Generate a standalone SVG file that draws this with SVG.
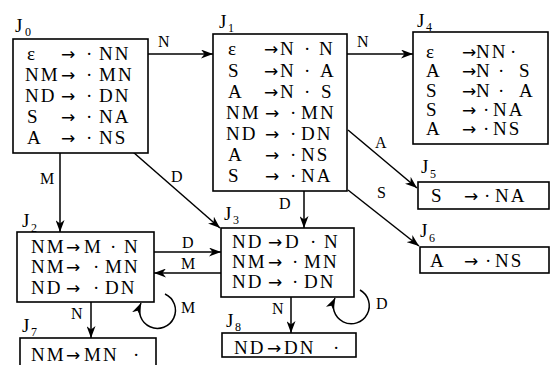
<svg xmlns="http://www.w3.org/2000/svg" width="550" height="365" viewBox="0 0 550 365">
<style>
.bx{fill:#fff;stroke:#000;stroke-width:1.6}
.t{font-family:"Liberation Serif","DejaVu Serif",serif;font-size:19px;fill:#000;letter-spacing:2px}
.ar{font-family:"DejaVu Sans",sans-serif;font-size:17px;letter-spacing:0}
.jl{font-family:"Liberation Serif","DejaVu Serif",serif;font-size:19px;fill:#000}
.sub{font-size:12px}
.lb{font-family:"Liberation Serif","DejaVu Serif",serif;font-size:16px;fill:#000}
.ln{fill:none;stroke:#000;stroke-width:1.5;marker-end:url(#ah)}
</style>
<defs>
<marker id="ah" markerUnits="userSpaceOnUse" markerWidth="13" markerHeight="9" refX="12" refY="4.5" orient="auto">
<path d="M0,0 L12,4.5 L0,9 L3.5,4.5 Z" fill="#000"/>
</marker>
</defs>
<rect width="550" height="365" fill="#fff"/>

<g id="connectors">
<line class="ln" x1="148" y1="54" x2="213" y2="54"/>
<text class="lb" x="158" y="47">N</text>
<line class="ln" x1="347" y1="54" x2="413" y2="54"/>
<text class="lb" x="357" y="47">N</text>
<line class="ln" x1="348" y1="130" x2="417" y2="188"/>
<text class="lb" x="375" y="148">A</text>
<line class="ln" x1="348" y1="190" x2="419" y2="246"/>
<text class="lb" x="377" y="198">S</text>
<line class="ln" x1="304" y1="191" x2="304" y2="228"/>
<text class="lb" x="279" y="209">D</text>
<line class="ln" x1="60" y1="153" x2="60" y2="232"/>
<text class="lb" x="40" y="184">M</text>
<line class="ln" x1="133" y1="152" x2="220" y2="228"/>
<text class="lb" x="171" y="182">D</text>
<line class="ln" x1="154" y1="252" x2="221" y2="252"/>
<text class="lb" x="182" y="248">D</text>
<line class="ln" x1="221" y1="273" x2="154" y2="273"/>
<text class="lb" x="181" y="269">M</text>
<path class="ln" d="M165 294 A18 18 0 1 1 141 303"/>
<text class="lb" x="181" y="313">M</text>
<path class="ln" d="M360 290 A18 18 0 1 1 335 298"/>
<text class="lb" x="376" y="309">D</text>
<line class="ln" x1="91" y1="302" x2="91" y2="338"/>
<text class="lb" x="71" y="319">N</text>
<line class="ln" x1="291" y1="297" x2="291" y2="333"/>
<text class="lb" x="272" y="314">N</text>
</g>

<g id="J0">
<rect class="bx" x="13" y="39" width="135" height="114"/>
<text class="jl" x="15" y="32">J<tspan class="sub" x="25" y="36">0</tspan></text>
<text class="t" y="60"><tspan x="27">ε</tspan><tspan class="ar" x="61">→</tspan><tspan x="86">·</tspan><tspan x="99">NN</tspan></text>
<text class="t" y="81"><tspan x="25">NM</tspan><tspan class="ar" x="61">→</tspan><tspan x="86">·</tspan><tspan x="99">MN</tspan></text>
<text class="t" y="102"><tspan x="25">ND</tspan><tspan class="ar" x="61">→</tspan><tspan x="86">·</tspan><tspan x="99">DN</tspan></text>
<text class="t" y="123"><tspan x="27">S</tspan><tspan class="ar" x="61">→</tspan><tspan x="86">·</tspan><tspan x="99">NA</tspan></text>
<text class="t" y="144"><tspan x="27">A</tspan><tspan class="ar" x="61">→</tspan><tspan x="86">·</tspan><tspan x="99">NS</tspan></text>
</g>

<g id="J1">
<rect class="bx" x="213" y="34" width="134" height="157"/>
<text class="jl" x="219" y="28">J<tspan class="sub" x="228" y="32">1</tspan></text>
<text class="t" y="55"><tspan x="228">ε</tspan><tspan class="ar" x="264">→</tspan><tspan x="280">N</tspan><tspan x="304">·</tspan><tspan x="319">N</tspan></text>
<text class="t" y="77"><tspan x="228">S</tspan><tspan class="ar" x="264">→</tspan><tspan x="280">N</tspan><tspan x="304">·</tspan><tspan x="320">A</tspan></text>
<text class="t" y="98"><tspan x="228">A</tspan><tspan class="ar" x="264">→</tspan><tspan x="280">N</tspan><tspan x="304">·</tspan><tspan x="321">S</tspan></text>
<text class="t" y="119"><tspan x="226">NM</tspan><tspan class="ar" x="265">→</tspan><tspan x="290">·</tspan><tspan x="301">MN</tspan></text>
<text class="t" y="140"><tspan x="226">ND</tspan><tspan class="ar" x="265">→</tspan><tspan x="290">·</tspan><tspan x="301">DN</tspan></text>
<text class="t" y="161"><tspan x="228">A</tspan><tspan class="ar" x="265">→</tspan><tspan x="290">·</tspan><tspan x="301">NS</tspan></text>
<text class="t" y="182"><tspan x="228">S</tspan><tspan class="ar" x="265">→</tspan><tspan x="290">·</tspan><tspan x="301">NA</tspan></text>
</g>

<g id="J4">
<rect class="bx" x="413" y="32" width="135" height="112"/>
<text class="jl" x="417" y="27">J<tspan class="sub" x="426" y="31">4</tspan></text>
<text class="t" y="58"><tspan x="426">ε</tspan><tspan class="ar" x="462">→</tspan><tspan x="476">NN</tspan><tspan x="510">·</tspan></text>
<text class="t" y="77"><tspan x="426">A</tspan><tspan class="ar" x="462">→</tspan><tspan x="476">N</tspan><tspan x="498">·</tspan><tspan x="519">S</tspan></text>
<text class="t" y="97"><tspan x="426">S</tspan><tspan class="ar" x="462">→</tspan><tspan x="476">N</tspan><tspan x="498">·</tspan><tspan x="519">A</tspan></text>
<text class="t" y="116"><tspan x="426">S</tspan><tspan class="ar" x="462">→</tspan><tspan x="483">·</tspan><tspan x="493">NA</tspan></text>
<text class="t" y="135"><tspan x="426">A</tspan><tspan class="ar" x="462">→</tspan><tspan x="483">·</tspan><tspan x="493">NS</tspan></text>
</g>

<g id="J5">
<rect class="bx" x="418" y="182" width="131" height="27"/>
<text class="jl" x="421" y="173">J<tspan class="sub" x="430" y="178">5</tspan></text>
<text class="t" y="202"><tspan x="431">S</tspan><tspan class="ar" x="464">→</tspan><tspan x="484">·</tspan><tspan x="495">NA</tspan></text>
</g>

<g id="J6">
<rect class="bx" x="420" y="247" width="129" height="26"/>
<text class="jl" x="420" y="237">J<tspan class="sub" x="429" y="242">6</tspan></text>
<text class="t" y="267"><tspan x="430">A</tspan><tspan class="ar" x="464">→</tspan><tspan x="485">·</tspan><tspan x="495">NS</tspan></text>
</g>

<g id="J2">
<rect class="bx" x="17" y="232" width="137" height="70"/>
<text class="jl" x="22" y="227">J<tspan class="sub" x="31" y="232">2</tspan></text>
<text class="t" y="253"><tspan x="31">NM</tspan><tspan class="ar" x="66">→</tspan><tspan x="84">M</tspan><tspan x="110">·</tspan><tspan x="124">N</tspan></text>
<text class="t" y="273"><tspan x="31">NM</tspan><tspan class="ar" x="66">→</tspan><tspan x="93">·</tspan><tspan x="105">MN</tspan></text>
<text class="t" y="294"><tspan x="31">ND</tspan><tspan class="ar" x="66">→</tspan><tspan x="93">·</tspan><tspan x="105">DN</tspan></text>
</g>

<g id="J3">
<rect class="bx" x="221" y="228" width="133" height="69"/>
<text class="jl" x="224" y="220">J<tspan class="sub" x="233" y="224">3</tspan></text>
<text class="t" y="248"><tspan x="232">ND</tspan><tspan class="ar" x="268">→</tspan><tspan x="285">D</tspan><tspan x="310">·</tspan><tspan x="324">N</tspan></text>
<text class="t" y="268"><tspan x="232">NM</tspan><tspan class="ar" x="268">→</tspan><tspan x="292">·</tspan><tspan x="304">MN</tspan></text>
<text class="t" y="288"><tspan x="232">ND</tspan><tspan class="ar" x="268">→</tspan><tspan x="292">·</tspan><tspan x="304">DN</tspan></text>
</g>

<g id="J7">
<rect class="bx" x="20" y="338" width="136" height="30"/>
<text class="jl" x="22" y="332">J<tspan class="sub" x="31" y="336">7</tspan></text>
<text class="t" y="361"><tspan x="31">NM</tspan><tspan class="ar" x="66">→</tspan><tspan x="84">MN</tspan><tspan x="133">·</tspan></text>
</g>

<g id="J8">
<rect class="bx" x="222" y="333" width="134" height="24"/>
<text class="jl" x="226" y="327">J<tspan class="sub" x="235" y="331">8</tspan></text>
<text class="t" y="354"><tspan x="234">ND</tspan><tspan class="ar" x="267">→</tspan><tspan x="284">DN</tspan><tspan x="333">·</tspan></text>
</g>
</svg>
